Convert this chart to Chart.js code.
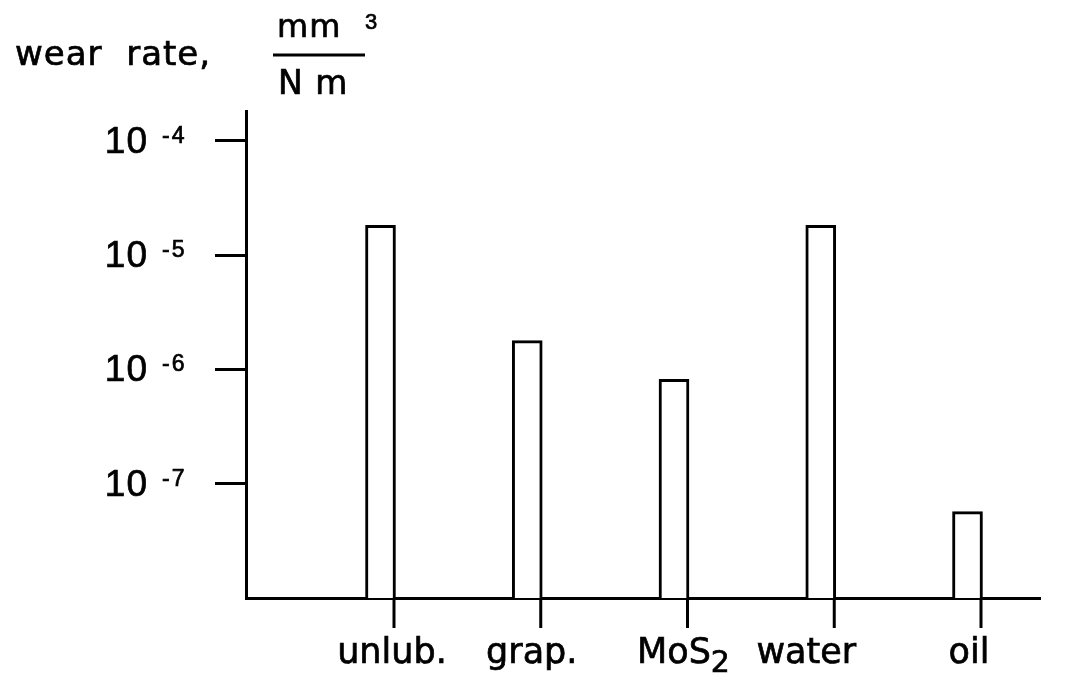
<!DOCTYPE html>
<html>
<head>
<meta charset="utf-8">
<title>wear rate</title>
<script src="https://cdn.jsdelivr.net/npm/chart.js@4.4.0/dist/chart.umd.min.js"></script>
<style>
  html, body { margin: 0; padding: 0; background: #fff; }
  #wrap { width: 1067px; height: 680px; }
</style>
</head>
<body>
<div id="wrap"><canvas id="wearChart" width="1067" height="680"></canvas></div>
<script>
// lubrication condition for each bar
const categories = ['unlub.', 'grap.', 'MoS2', 'water', 'oil'];
// wear rate in mm^3 / (N m)
const wearRates = [1.83e-5, 1.79e-6, 8.2e-7, 1.83e-5, 5.7e-8];
// decades that get a tick and a label on the y axis
const yTickValues = [1e-7, 1e-6, 1e-5, 1e-4];

const FONT = '"DejaVu Sans", Verdana, sans-serif';
const NUM_FONT = '"Liberation Sans", Arial, Helvetica, sans-serif';
// small nudges of each category label relative to its tick mark (px)
const labelShift = [-2, -9, -4, -28, -12];

// fill text and go over it with a thin stroke so it looks like the scanned print
function ink(ctx, text, x, y) {
    ctx.fillText(text, x, y);
    ctx.lineWidth = 0.7;
    ctx.strokeText(text, x, y);
}

// draws the titles, the 10^n labels, the category labels and the ticks under the bars
const annotate = {
    id: 'annotate',
    afterDraw(chart) {
        const ctx = chart.ctx;
        const area = chart.chartArea;
        const yScale = chart.scales.y;
        const bars = chart.getDatasetMeta(0).data;

        ctx.save();
        ctx.fillStyle = '#000';
        ctx.strokeStyle = '#000';
        ctx.textBaseline = 'alphabetic';
        ctx.textAlign = 'left';

        // axis title with the unit as a fraction
        ctx.font = '34px ' + FONT;
        ctx.letterSpacing = '1px';
        ink(ctx, 'wear  rate,', 15, 65);

        ctx.font = '32px ' + FONT;
        ctx.letterSpacing = '1px';
        ink(ctx, 'mm', 277, 37);
        ctx.font = '22px ' + NUM_FONT;
        ctx.letterSpacing = '0px';
        ink(ctx, '3', 365, 29);

        ctx.lineWidth = 3;
        ctx.beginPath();
        ctx.moveTo(273, 55);
        ctx.lineTo(365, 55);
        ctx.stroke();

        ctx.font = '33px ' + FONT;
        ctx.letterSpacing = '1px';
        ink(ctx, 'N m', 278, 94);

        // y labels: 10 with a raised exponent
        yTickValues.forEach(function(v) {
            const y = yScale.getPixelForValue(v);
            const exp = Math.round(Math.log10(v));
            ctx.letterSpacing = '1px';
            ctx.font = '37px ' + NUM_FONT;
            ctx.textAlign = 'right';
            ink(ctx, '10', 148, y + 12);
            ctx.font = '23px ' + NUM_FONT;
            ctx.textAlign = 'left';
            ctx.letterSpacing = '2px';
            ink(ctx, '-' + Math.abs(exp), 162, y + 2);
        });

        // tick marks below the axis at the right edge of each bar, and the labels
        ctx.letterSpacing = '0px';
        bars.forEach(function(bar, i) {
            const tx = bar.x + bar.width / 2 - 1.5;
            ctx.lineWidth = 3;
            ctx.beginPath();
            ctx.moveTo(tx, area.bottom);
            ctx.lineTo(tx, area.bottom + 30);
            ctx.stroke();

            const cx = tx + labelShift[i];
            const name = categories[i];
            if (name === 'MoS2') {
                ctx.font = '35px ' + FONT;
                const w1 = ctx.measureText('MoS').width;
                ctx.font = '30px ' + FONT;
                const w2 = ctx.measureText('2').width;
                const x0 = cx - (w1 + w2) / 2;
                ctx.textAlign = 'left';
                ctx.font = '35px ' + FONT;
                ink(ctx, 'MoS', x0, 663);
                ctx.font = '30px ' + FONT;
                ink(ctx, '2', x0 + w1, 672);
            } else {
                ctx.font = '35px ' + FONT;
                ctx.textAlign = 'center';
                ink(ctx, name, cx, 663);
            }
        });

        ctx.restore();
    }
};

const ctx = document.getElementById('wearChart').getContext('2d');
new Chart(ctx, {
    type: 'bar',
    data: {
        labels: categories,
        datasets: [{
            label: 'wear rate',
            data: wearRates.map(function(v, i) { return { x: i, y: v }; }),
            backgroundColor: '#fff',
            borderColor: '#000',
            borderWidth: 3,
            borderSkipped: 'start',
            barThickness: 30
        }]
    },
    options: {
        responsive: false,
        animation: false,
        devicePixelRatio: 1,
        layout: {
            padding: { left: 215, top: 111, right: 27, bottom: 82 }
        },
        plugins: {
            legend: { display: false },
            tooltip: { enabled: false }
        },
        scales: {
            x: {
                type: 'linear',
                offset: false,
                min: -0.9165,
                max: 4.494,
                grid: { display: false, drawTicks: false },
                ticks: { display: false },
                border: { display: true, color: '#000', width: 3 }
            },
            y: {
                type: 'logarithmic',
                min: 1e-8,
                max: 1.83e-4,
                afterBuildTicks: function(axis) {
                    axis.ticks = yTickValues.map(function(v) { return { value: v }; });
                },
                ticks: { display: false },
                grid: {
                    display: true,
                    drawOnChartArea: false,
                    drawTicks: true,
                    tickLength: 31,
                    color: '#000',
                    lineWidth: 3
                },
                border: { display: true, color: '#000', width: 3 }
            }
        }
    },
    plugins: [annotate]
});
</script>
</body>
</html>
